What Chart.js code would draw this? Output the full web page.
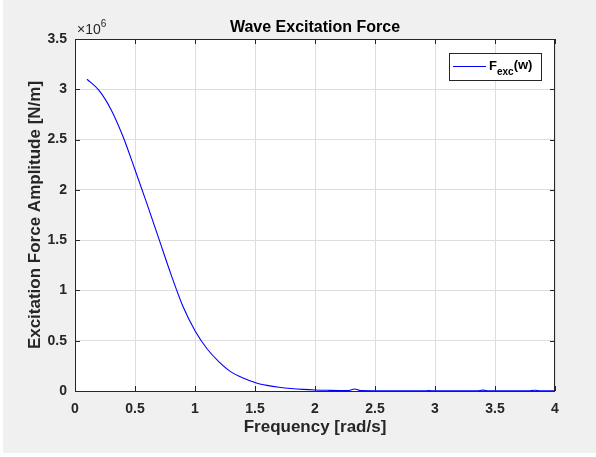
<!DOCTYPE html>
<html>
<head>
<meta charset="utf-8">
<script src="https://cdn.jsdelivr.net/npm/chart.js@4.4.0/dist/chart.umd.min.js"></script>
<style>
  html, body { margin: 0; padding: 0; background: #ffffff; }
  #chart { display: block; }
</style>
</head>
<body>
<canvas id="chart" width="596" height="457"></canvas>
<script>
// frequency [rad/s]
const freq = [
  0.10, 0.20, 0.30, 0.40, 0.50, 0.60, 0.70, 0.80, 0.90, 1.00,
  1.10, 1.20, 1.30, 1.40, 1.50, 1.55, 1.60, 1.70, 1.80, 1.90,
  2.00, 2.10, 2.20, 2.28, 2.33, 2.38, 2.50, 2.70, 2.90, 2.95,
  3.00, 3.20, 3.35, 3.40, 3.45, 3.60, 3.78, 3.83, 3.88, 4.00
];
// excitation force amplitude, in units of 1e6 N/m
const amplitude = [
  3.10, 2.99, 2.80, 2.53, 2.20, 1.86, 1.51, 1.16, 0.84, 0.60,
  0.42, 0.29, 0.19, 0.13, 0.085, 0.068, 0.056, 0.038, 0.025, 0.016,
  0.010, 0.007, 0.005, 0.005, 0.020, 0.004, 0.003, 0.002, 0.002, 0.004,
  0.002, 0.002, 0.002, 0.009, 0.002, 0.001, 0.001, 0.008, 0.001, 0.001
];
const exponent = 6;
const xTicks = [0, 0.5, 1, 1.5, 2, 2.5, 3, 3.5, 4];
const yTicks = [0, 0.5, 1, 1.5, 2, 2.5, 3, 3.5];

const fontFamily = "'Liberation Sans', Arial, Helvetica, sans-serif";
const axisColor = "#262626";
const lineColor = "#0000ff";
const scaleFactor = Math.pow(10, exponent);

const points = freq.map((f, i) => ({ x: f, y: amplitude[i] * scaleFactor }));

// matlab style frame: grey figure, box, inward ticks, title, exponent, legend
const matlabFrame = {
  id: "matlabFrame",
  beforeDraw(chart) {
    const { ctx, chartArea: a } = chart;
    ctx.save();
    ctx.fillStyle = "#ffffff";
    ctx.fillRect(0, 0, chart.width, chart.height);
    ctx.fillStyle = "#f0f0f0";
    ctx.fillRect(3, 0, chart.width - 3, chart.height - 4);
    ctx.fillStyle = "#ffffff";
    ctx.fillRect(a.left, a.top, a.right - a.left, a.bottom - a.top);
    ctx.restore();
  },
  afterDraw(chart) {
    const { ctx, chartArea: a } = chart;
    const xs = chart.scales.x;
    const ys = chart.scales.y;
    ctx.save();
    ctx.strokeStyle = axisColor;
    ctx.lineWidth = 1;
    ctx.strokeRect(a.left + 0.5, a.top + 0.5, a.right - a.left - 1, a.bottom - a.top);

    const tl = 5;
    ctx.beginPath();
    xTicks.forEach((v) => {
      const px = Math.round(xs.getPixelForValue(v)) + 0.5;
      ctx.moveTo(px, a.bottom);
      ctx.lineTo(px, a.bottom - tl);
      ctx.moveTo(px, a.top);
      ctx.lineTo(px, a.top + tl);
    });
    yTicks.forEach((v) => {
      const py = Math.round(ys.getPixelForValue(v * scaleFactor)) + 0.5;
      ctx.moveTo(a.left, py);
      ctx.lineTo(a.left + tl, py);
      ctx.moveTo(a.right, py);
      ctx.lineTo(a.right - tl, py);
    });
    ctx.stroke();

    // title
    ctx.fillStyle = "#000000";
    ctx.font = "bold 16px " + fontFamily;
    ctx.textAlign = "center";
    ctx.textBaseline = "alphabetic";
    ctx.fillText("Wave Excitation Force", (a.left + a.right) / 2, 32);

    // exponent label
    ctx.fillStyle = axisColor;
    ctx.textAlign = "left";
    ctx.font = "14px " + fontFamily;
    ctx.fillText("\u00d710", a.left + 2, 34);
    const w = ctx.measureText("\u00d710").width;
    ctx.font = "10px " + fontFamily;
    ctx.fillText(String(exponent), a.left + 2 + w, 27);

    // legend
    const lx = 449, ly = 53, lw = 92, lh = 27;
    ctx.fillStyle = "#ffffff";
    ctx.fillRect(lx, ly, lw, lh);
    ctx.strokeStyle = axisColor;
    ctx.strokeRect(lx + 0.5, ly + 0.5, lw, lh);
    ctx.strokeStyle = lineColor;
    ctx.lineWidth = 1.1;
    ctx.beginPath();
    ctx.moveTo(453, ly + 13.5);
    ctx.lineTo(486, ly + 13.5);
    ctx.stroke();
    ctx.fillStyle = "#000000";
    ctx.font = "bold 13px " + fontFamily;
    let tx = 489;
    ctx.fillText("F", tx, ly + 17);
    tx += ctx.measureText("F").width;
    ctx.font = "bold 10px " + fontFamily;
    ctx.fillText("exc", tx, ly + 22);
    tx += ctx.measureText("exc").width;
    ctx.font = "bold 13px " + fontFamily;
    ctx.fillText("(w)", tx, ly + 16);
    ctx.restore();
  }
};

new Chart(document.getElementById("chart"), {
  type: "line",
  data: {
    datasets: [{
      label: "F_exc(w)",
      data: points,
      borderColor: lineColor,
      borderWidth: 1.1,
      pointRadius: 0,
      fill: false,
      cubicInterpolationMode: "monotone"
    }]
  },
  options: {
    responsive: false,
    animation: false,
    devicePixelRatio: 1,
    layout: { padding: { top: 39, right: 41, bottom: 0, left: 0 } },
    plugins: {
      legend: { display: false },
      title: { display: false },
      tooltip: { enabled: false }
    },
    scales: {
      x: {
        type: "linear",
        min: 0,
        max: 4,
        afterFit: (s) => { s.height = 66; },
        afterBuildTicks: (s) => { s.ticks = xTicks.map((v) => ({ value: v })); },
        grid: { color: "#dedede", drawTicks: false },
        border: { display: false },
        ticks: {
          padding: 10,
          color: axisColor,
          font: { family: fontFamily, size: 14, weight: "bold" },
          maxRotation: 0,
          callback: (v) => String(v)
        },
        title: {
          display: true,
          text: "Frequency [rad/s]",
          color: axisColor,
          font: { family: fontFamily, size: 17, weight: "bold" },
          padding: { top: 0, bottom: 19 }
        }
      },
      y: {
        min: 0,
        max: 3.5 * scaleFactor,
        afterFit: (s) => { s.width = 75; },
        afterBuildTicks: (s) => { s.ticks = yTicks.map((v) => ({ value: v * scaleFactor })); },
        grid: { color: "#dedede", drawTicks: false },
        border: { display: false },
        ticks: {
          padding: 8,
          color: axisColor,
          font: { family: fontFamily, size: 14, weight: "bold" },
          callback: (v) => String(Math.round(v / scaleFactor * 10) / 10)
        },
        title: {
          display: true,
          text: "Excitation Force Amplitude [N/m]",
          color: axisColor,
          font: { family: fontFamily, size: 17, weight: "bold" },
          padding: { top: 25, bottom: 0 }
        }
      }
    }
  },
  plugins: [matlabFrame]
});
</script>
</body>
</html>
